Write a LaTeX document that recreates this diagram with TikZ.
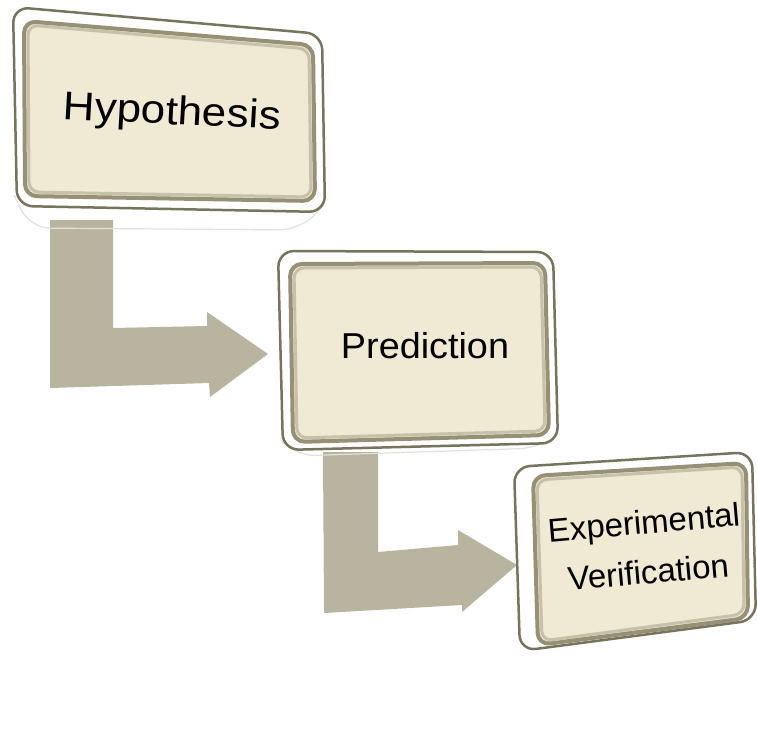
\documentclass[tikz,border=0pt]{standalone}
\usepackage{fontspec}
\setmainfont{Liberation Sans}
\definecolor{arrowC}{RGB}{184,180,160}
\definecolor{faceC}{RGB}{240,233,211}
\definecolor{bevelC}{RGB}{150,144,118}
\definecolor{frameC}{RGB}{120,115,92}
\definecolor{reflC}{RGB}{225,225,220}
\begin{document}
\begin{tikzpicture}[x=1pt,y=-1pt,
  outerframe/.style={draw=frameC, line width=2.5pt, fill=white, rounded corners=16pt},
  facebox/.style={fill=faceC, draw=bevelC, line width=4pt, rounded corners=12pt},
  faceshade/.style={draw=bevelC!45!faceC, line width=3pt, rounded corners=10pt},
  blockarrow/.style={fill=arrowC, draw=none},
  refl/.style={draw=reflC, line width=1.2pt, rounded corners=20pt},
  lbl/.style={inner sep=0pt, text=black}]
\useasboundingbox (0,0) rectangle (757,739);
% block arrows
\fill[blockarrow] (50,220) -- (113,220) -- (113,328) -- (207,326) -- (207,312)
  -- (268,354) -- (210,397) -- (209,383) -- (50,388) -- cycle;
\fill[blockarrow] (323,452) -- (378,452) -- (378,552) -- (458,545) -- (458,530)
  -- (517,565) -- (462,612) -- (462,605) -- (324,613) -- cycle;
% reflections
\draw[refl] (14,195) -- (30,228) -- (300,230) -- (324,205);
\draw[refl] (281,440) -- (295,456) -- (540,448) -- (556,436);
% box 1
\draw[outerframe] (13,7) -- (322,34) -- (325,212) -- (17,206) -- cycle;
\draw[facebox] (24,21) -- (313,45) -- (315,201) -- (25,196) -- cycle;
\draw[faceshade] (28,25) -- (309,49) -- (311,197) -- (29,192) -- cycle;
% box 2
\draw[outerframe] (278,251) -- (553,252) -- (558,443) -- (283,450) -- cycle;
\draw[facebox] (290,264) -- (545,263) -- (549,435) -- (293,442) -- cycle;
\draw[faceshade] (294,268) -- (541,267) -- (545,431) -- (297,438) -- cycle;
% box 3
\draw[outerframe] (514,467) -- (752,452) -- (756,620) -- (520,651) -- cycle;
\draw[facebox] (533,476) -- (746,463) -- (748,618) -- (538,645) -- cycle;
\draw[faceshade] (537,480) -- (742,467) -- (744,614) -- (542,641) -- cycle;
% labels
\node[lbl, font=\fontsize{40}{48}\selectfont, xscale=1.1, rotate=-3] (h) at (172,114) {Hypothesis};
\node[lbl, font=\fontsize{36}{43}\selectfont, xscale=1.05] (p) at (425,346) {Prediction};
\node[lbl, font=\fontsize{33}{50}\selectfont, align=center, rotate=5] (ev) at (646,547) {Experimental\\Verification};
\end{tikzpicture}
\end{document}
